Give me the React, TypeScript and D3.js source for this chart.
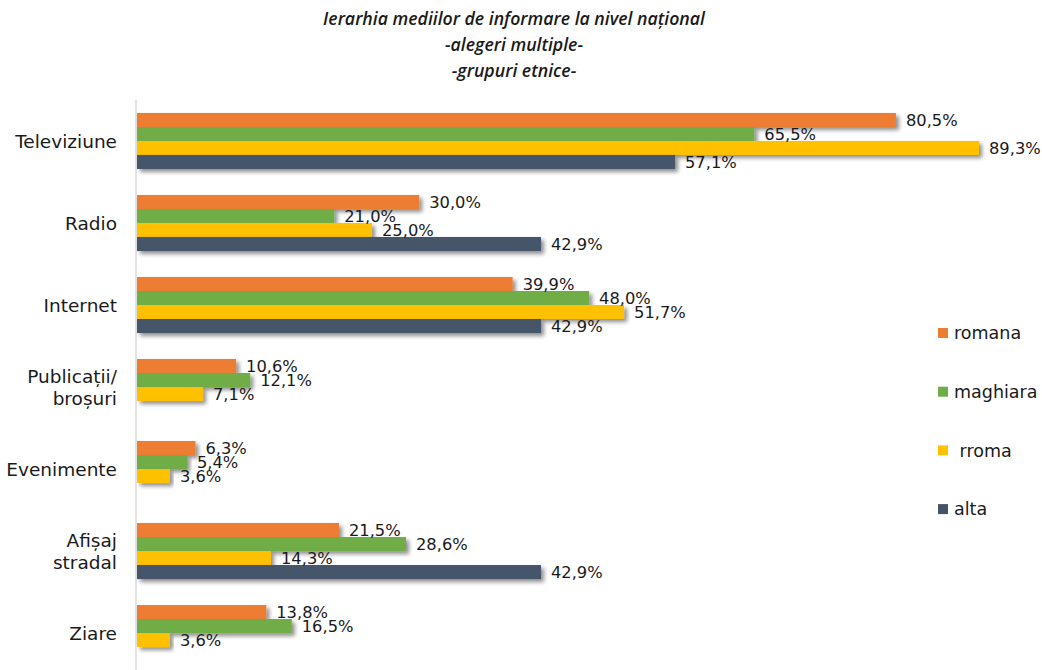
import React from "react";
import * as d3 from "d3";

const categories = ["Televiziune", "Radio", "Internet", "Publicații/\nbroșuri", "Evenimente", "Afișaj\nstradal", "Ziare"];
const seriesNames = ["romana", "maghiara", "rroma", "alta"];
const legendLabels = ["romana", "maghiara", " rroma", "alta"];
const romana = [80.5, 30.0, 39.9, 10.6, 6.3, 21.5, 13.8];
const maghiara = [65.5, 21.0, 48.0, 12.1, 5.4, 28.6, 16.5];
const rroma = [89.3, 25.0, 51.7, 7.1, 3.6, 14.3, 3.6];
const alta: (number | null)[] = [57.1, 42.9, 42.9, null, null, 42.9, null];
const colors = ["#ED7D31", "#70AD47", "#FFC000", "#44546A"];
const titleLines = ["Ierarhia mediilor de informare la nivel național", "-alegeri multiple-", "-grupuri etnice-"];

const W = 1042;
const H = 670;

export default function App() {
  const values = [romana, maghiara, rroma, alta];
  const x = d3.scaleLinear().domain([0, 89.3]).range([136, 979]);
  const y0 = d3.scaleBand<string>().domain(categories).range([100, 674]).paddingInner(0.317).paddingOuter(0.158);
  const y1 = d3.scaleBand<string>().domain(seriesNames).range([0, y0.bandwidth()]);
  const fmt = (v: number) => v.toFixed(1).replace(".", ",") + "%";
  const font = "'DejaVu Sans', sans-serif";

  return (
    <svg width={W} height={H} style={{ position: "absolute", left: 0, top: 0, background: "#fff" }}>
      <defs>
        <filter id="sh" x="-5%" y="-50%" width="115%" height="250%">
          <feGaussianBlur in="SourceAlpha" stdDeviation="2" />
          <feOffset dx="3" dy="3" result="o" />
          <feComponentTransfer>
            <feFuncA type="linear" slope="0.45" />
          </feComponentTransfer>
          <feMerge>
            <feMergeNode />
            <feMergeNode in="SourceGraphic" />
          </feMerge>
        </filter>
      </defs>
      {titleLines.map((t, i) => (
        <text key={i} x={514} y={25 + i * 26} textAnchor="middle" fontFamily="'Open Sans', sans-serif" fontStyle="italic" fontWeight={600} fontSize={17.7} fill="#1a1a1a">
          {t}
        </text>
      ))}
      <line x1={x(0)} x2={x(0)} y1={100} y2={H} stroke="#d9d9d9" strokeWidth={1.5} />
      {categories.map((c, ci) => (
        <g key={c}>
          {seriesNames.map((s, si) => {
            const v = values[si][ci];
            if (v == null) return null;
            const yy = (y0(c) as number) + (y1(s) as number);
            return (
              <rect key={s} x={x(0) + 1} y={yy} width={x(v) - x(0) - 1} height={y1.bandwidth()} fill={colors[si]} filter="url(#sh)" />
            );
          })}
        </g>
      ))}
      {categories.map((c, ci) => (
        <g key={c + "l"}>
          {seriesNames.map((s, si) => {
            const v = values[si][ci];
            if (v == null) return null;
            const yy = (y0(c) as number) + (y1(s) as number) + y1.bandwidth() / 2;
            return (
              <text key={s} x={x(v) + 10} y={yy} dy="0.36em" fontFamily={font} fontSize={16.3} fill="#1a1a1a">
                {fmt(v)}
              </text>
            );
          })}
          {(() => {
            const lines = c.split("\n");
            const cy = (y0(c) as number) + y0.bandwidth() / 2;
            return lines.map((ln, li) => (
              <text key={li} x={117} y={cy + (li - (lines.length - 1) / 2) * 22} dy="0.36em" textAnchor="end" fontFamily={font} fontSize={18.5} fill="#1a1a1a">
                {ln}
              </text>
            ));
          })()}
        </g>
      ))}
      {legendLabels.map((l, i) => (
        <g key={l} transform={`translate(938, ${333 + i * 58.7})`}>
          <rect x={0} y={-5} width={10} height={10} fill={colors[i]} />
          <text x={16} y={0} dy="0.36em" fontFamily={font} fontSize={17.5} fill="#1a1a1a" style={{ whiteSpace: "pre" }}>
            {l}
          </text>
        </g>
      ))}
    </svg>
  );
}
